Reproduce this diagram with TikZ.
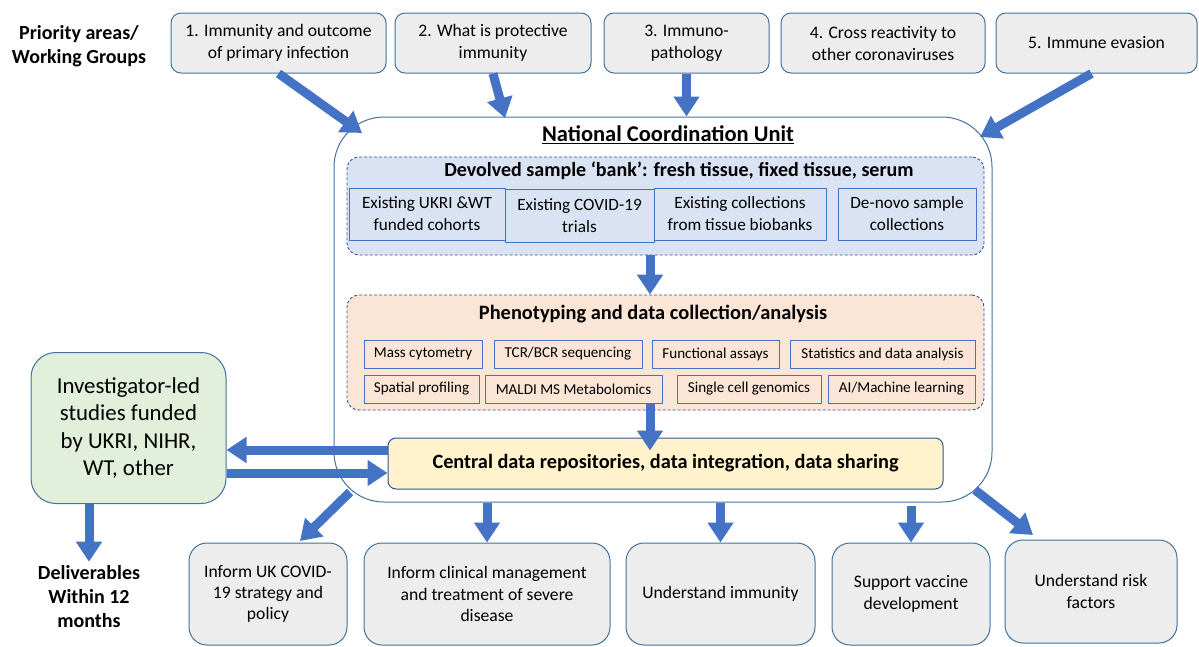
\documentclass[tikz,border=0pt]{standalone}
\usepackage{fontspec}
\setmainfont{Carlito}
\usetikzlibrary{arrows.meta,calc}
\definecolor{arr}{HTML}{4472C4}
\definecolor{bord}{HTML}{41719C}
\definecolor{dbord}{HTML}{2F5597}
\definecolor{grayf}{HTML}{EDEDED}
\definecolor{bluef}{HTML}{DAE3F3}
\definecolor{peachf}{HTML}{FBE5D6}
\definecolor{yellowf}{HTML}{FFF2CC}
\definecolor{greenf}{HTML}{E2EFDA}
\tikzset{
  topbox/.style={draw=bord, fill=grayf, rounded corners=10pt, line width=1pt, align=center, inner sep=0pt, font=\fontsize{17.6}{22}\selectfont},
  botbox/.style={draw=bord, fill=grayf, rounded corners=18pt, line width=1pt, align=center, inner sep=0pt, font=\fontsize{17.6}{21.3}\selectfont},
  group/.style={draw=dbord, dash pattern=on 3pt off 2pt, line width=0.9pt, rounded corners=12pt, inner sep=0pt},
  sbox/.style={draw=arr, fill=bluef, line width=1pt, align=center, inner sep=0pt, font=\fontsize{17.2}{22}\selectfont},
  pbox/.style={draw=arr, fill=peachf, line width=1pt, align=center, inner sep=0pt, font=\fontsize{15.1}{18}\selectfont},
  bigarrow/.style={draw=arr, line width=9pt, -{Triangle[width=25pt,length=20pt]}, color=arr},
  lbl/.style={font=\fontsize{20}{24}\bfseries\selectfont, align=center, inner sep=0pt}
}
\begin{document}
\begin{tikzpicture}[x=1pt,y=-1pt]
\useasboundingbox (0,0) rectangle (1199,646);

% top labels and boxes
\node[lbl] (pa) at (79,46) {Priority areas/\\Working Groups};
\node[topbox, minimum width=215pt, minimum height=60pt] (b1) at (278.5,43) {1. Immunity and outcome\\of primary infection};
\node[topbox, minimum width=196pt, minimum height=60pt] (b2) at (493,43) {2. What is protective\\immunity};
\node[topbox, minimum width=165pt, minimum height=60pt] (b3) at (686.5,43) {3. Immuno-\\pathology};
\node[topbox, minimum width=204pt, minimum height=60pt] (b4) at (883,43) {4. Cross reactivity to\\other coronaviruses};
\node[topbox, minimum width=201pt, minimum height=60pt] (b5) at (1096.5,43) {5. Immune evasion};

% national coordination unit
\node[draw=bord, line width=1pt, rounded corners=50pt, minimum width=658pt, minimum height=385pt, inner sep=0pt] (ncu) at (663,309.5) {};
\node[font=\fontsize{22.5}{26}\bfseries\selectfont, inner sep=0pt] (ncut) at (668,135) {\underline{National Coordination Unit}};

% sample bank
\node[group, fill=bluef, minimum width=637pt, minimum height=98pt] (sb) at (665.5,206) {};
\node[font=\fontsize{20}{24}\bfseries\selectfont, inner sep=0pt] (sbt) at (679,171) {Devolved sample ‘bank’: fresh tissue, fixed tissue, serum};
\node[sbox, minimum width=156pt, minimum height=52pt] (s1) at (427,214) {Existing UKRI \&WT\\funded cohorts};
\node[sbox, minimum width=149pt, minimum height=53pt] (s2) at (579.5,215.5) {Existing COVID-19\\trials};
\node[sbox, minimum width=172pt, minimum height=52pt] (s3) at (740,214) {Existing collections\\from tissue biobanks};
\node[sbox, minimum width=138pt, minimum height=52pt] (s4) at (907,214) {De-novo sample\\collections};

% phenotyping
\node[group, fill=peachf, minimum width=637pt, minimum height=115pt] (ph) at (665.5,352.5) {};
\node[font=\fontsize{20.4}{24}\bfseries\selectfont, inner sep=0pt] (pht) at (653,314) {Phenotyping and data collection/analysis};
\node[pbox, minimum width=118pt, minimum height=28pt] (p1) at (423,354) {Mass cytometry};
\node[pbox, minimum width=148pt, minimum height=28pt] (p2) at (568,354) {TCR/BCR sequencing};
\node[pbox, minimum width=127pt, minimum height=28pt] (p3) at (715.5,354) {Functional assays};
\node[pbox, minimum width=185pt, minimum height=28pt] (p4) at (882.5,354) {Statistics and data analysis};
\node[pbox, minimum width=115pt, minimum height=28pt] (p5) at (421.5,389) {Spatial profiling};
\node[pbox, minimum width=177pt, minimum height=28pt] (p6) at (573.5,389) {MALDI MS Metabolomics};
\node[pbox, minimum width=144pt, minimum height=28pt] (p7) at (749,389) {Single cell genomics};
\node[pbox, minimum width=147pt, minimum height=28pt] (p8) at (901.5,389) {AI/Machine learning};

% central data
\node[draw=dbord, fill=yellowf, line width=1pt, rounded corners=8pt, minimum width=555pt, minimum height=51pt, inner sep=0pt, font=\fontsize{20.3}{24}\bfseries\selectfont] (cen) at (665.5,463.5) {Central data repositories, data integration, data sharing};

% investigator box
\node[draw=bord, fill=greenf, line width=1pt, rounded corners=25pt, minimum width=195pt, minimum height=151pt, inner sep=0pt, align=center, font=\fontsize{22.8}{27.3}\selectfont] (grn) at (128.5,428) {Investigator-led\\studies funded\\by UKRI, NIHR,\\WT, other};
\node[lbl] (del) at (89,597) {Deliverables\\Within 12\\months};

% bottom boxes
\node[botbox, minimum width=158pt, minimum height=102pt] (o1) at (268,594) {Inform UK COVID-\\19 strategy and\\policy};
\node[botbox, minimum width=246pt, minimum height=102pt] (o2) at (487,594) {Inform clinical management\\and treatment of severe\\disease};
\node[botbox, minimum width=189pt, minimum height=102pt] (o3) at (720.5,594) {Understand immunity};
\node[botbox, minimum width=158pt, minimum height=102pt] (o4) at (911,594) {Support vaccine\\development};
\node[botbox, minimum width=172pt, minimum height=103pt] (o5) at (1091,591.5) {Understand risk\\factors};

% connector end points
\coordinate (e1) at (362,133);
\coordinate (e2) at (505,118);
\coordinate (e5) at (980,137);
\coordinate (q1) at (350,492);
\coordinate (q1e) at (300,541);
\coordinate (q5) at (975,490);
\coordinate (q5e) at (1033,535);

% arrows
\draw[bigarrow] (b1.south) -- (e1);
\draw[bigarrow] (b2.south) -- (e2);
\draw[bigarrow] (b3.south) -- (b3.south |- ncu.north);
\draw[bigarrow] ([xshift=-5pt]b5.south) -- (e5);
\draw[bigarrow] ([xshift=-15.5pt]sb.south) -- ([xshift=-15.5pt]ph.north);
\draw[bigarrow] ([xshift=76.5pt]p6.south) -- ([xshift=-15.5pt,yshift=-13pt]cen.north);
\draw[bigarrow] ([yshift=13.5pt]cen.west) -- ([yshift=13.5pt]cen.west -| grn.east);
\draw[bigarrow] ([yshift=-9.5pt]cen.west -| grn.east) -- ([yshift=-9.5pt]cen.west);
\draw[bigarrow] (grn.south -| del.north) -- ([yshift=4pt]del.north);
\draw[bigarrow] (q1) -- (q1e);
\draw[bigarrow] (ncu.south -| o2.north) -- (o2.north);
\draw[bigarrow] (ncu.south -| o3.north) -- (o3.north);
\draw[bigarrow] ([yshift=-3pt]ncu.south -| o4.north) -- (o4.north);
\draw[bigarrow] (q5) -- (q5e);
\end{tikzpicture}
\end{document}
